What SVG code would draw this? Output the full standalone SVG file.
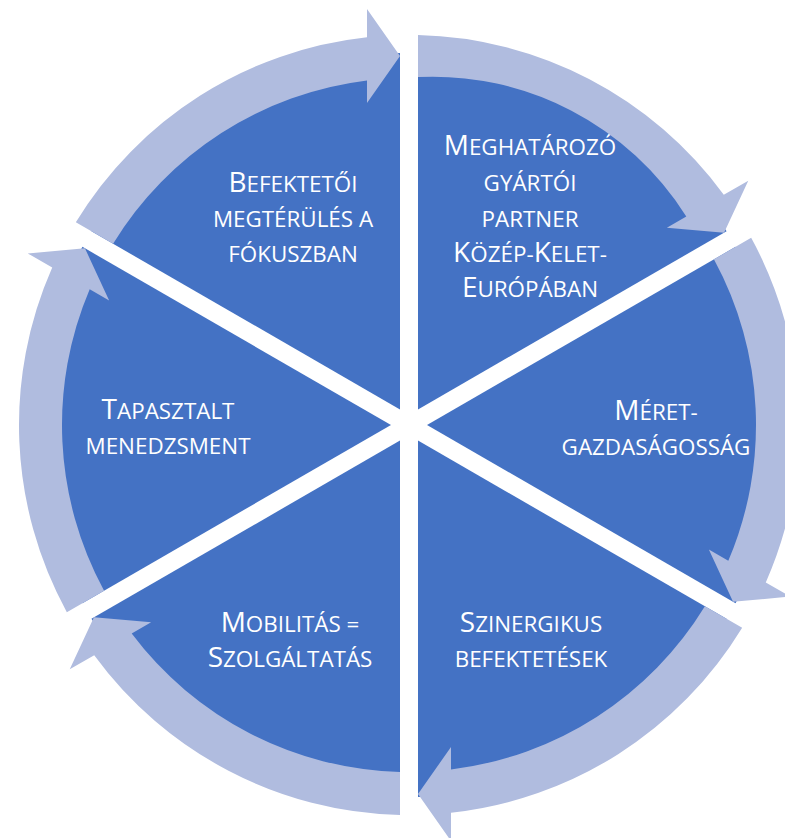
<svg xmlns="http://www.w3.org/2000/svg" xmlns:xlink="http://www.w3.org/1999/xlink" width="785" height="838" viewBox="0 0 785 838">
<style>
.slice{fill:#4472C4}
.arr{fill:#B0BCDF}
.lbl{font-family:"Open Sans","Noto Sans","Liberation Sans",sans-serif;font-size:28px;fill:#FFFFFF;text-anchor:middle}
.sc{font-size:22.4px;text-transform:uppercase}
</style>
<defs>
<path id="slice" d="M 418 409.41 L 418 53.11 A 372 372 0 0 1 726.56 231.26 Z"/>
<path id="arrow" d="M 418 78.12 A 347 347 0 0 1 686.30 216.40 L 666.85 227.63 L 724.06 232.71 L 748.26 180.63 L 723.78 194.76 A 390 390 0 0 0 418 35.1 Z"/>
<path id="arrow0" d="M 418 77 A 300 300 0 0 1 686.30 216.40 L 666.85 227.63 L 724.06 232.71 L 748.26 180.63 L 723.78 194.76 A 390 390 0 0 0 418 35.1 Z"/>
</defs>
<rect width="785" height="838" fill="#FFFFFF"/>
<g id="node-meghatarozo">
<use xlink:href="#slice" class="slice"/>
<text class="lbl"><tspan x="530" y="155">M<tspan class="sc">eghatározó</tspan></tspan><tspan x="530" y="191" class="sc">gyártói</tspan><tspan x="530" y="227" class="sc">partner</tspan><tspan x="530" y="262">K<tspan class="sc">özép-</tspan>K<tspan class="sc">elet-</tspan></tspan><tspan x="530" y="297">E<tspan class="sc">urópában</tspan></tspan></text>
</g>
<g id="node-meret">
<use xlink:href="#slice" class="slice" transform="rotate(60 409 425)"/>
<text class="lbl"><tspan x="656" y="420">M<tspan class="sc">éret-</tspan></tspan><tspan x="656" y="455" class="sc">gazdaságosság</tspan></text>
</g>
<g id="node-szinergikus">
<use xlink:href="#slice" class="slice" transform="rotate(120 409 425)"/>
<text class="lbl"><tspan x="531" y="632">S<tspan class="sc">zinergikus</tspan></tspan><tspan x="531" y="667" class="sc">befektetések</tspan></text>
</g>
<g id="node-mobilitas">
<use xlink:href="#slice" class="slice" transform="rotate(180 409 425)"/>
<text class="lbl"><tspan x="290" y="632">M<tspan class="sc">obilitás =</tspan></tspan><tspan x="290" y="667">S<tspan class="sc">zolgáltatás</tspan></tspan></text>
</g>
<g id="node-tapasztalt">
<use xlink:href="#slice" class="slice" transform="rotate(240 409 425)"/>
<text class="lbl"><tspan x="168" y="419">T<tspan class="sc">apasztalt</tspan></tspan><tspan x="168" y="454" class="sc">menedzsment</tspan></text>
</g>
<g id="node-befektetoi">
<use xlink:href="#slice" class="slice" transform="rotate(300 409 425)"/>
<text class="lbl"><tspan x="293" y="192">B<tspan class="sc">efektetői</tspan></tspan><tspan x="293" y="227" class="sc">megtérülés a</tspan><tspan x="293" y="262" class="sc">fókuszban</tspan></text>
</g>
<g id="connectors">
<use xlink:href="#arrow0" class="arr"/>
<use xlink:href="#arrow" class="arr" transform="rotate(60 409 425)"/>
<use xlink:href="#arrow" class="arr" transform="rotate(120 409 425)"/>
<use xlink:href="#arrow" class="arr" transform="rotate(180 409 425)"/>
<use xlink:href="#arrow" class="arr" transform="rotate(240 409 425)"/>
<use xlink:href="#arrow" class="arr" transform="rotate(300 409 425)"/>
</g>
</svg>
